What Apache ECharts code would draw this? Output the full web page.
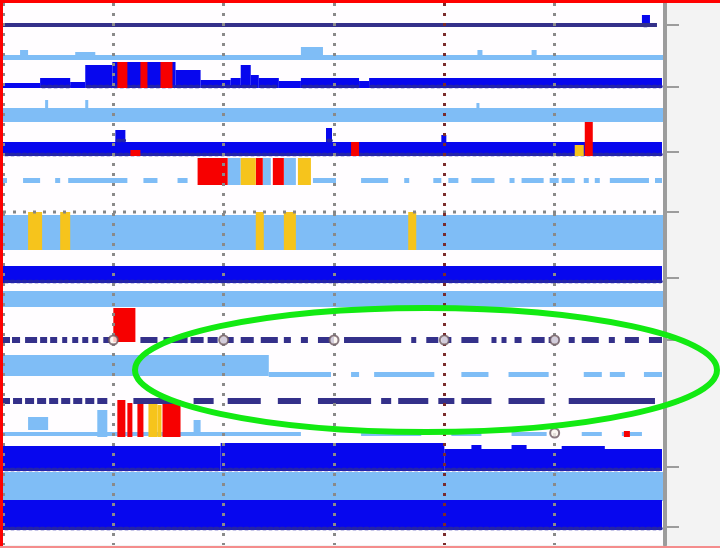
<!DOCTYPE html>
<html>
<head>
<meta charset="utf-8">
<script src="https://cdn.jsdelivr.net/npm/echarts@6/dist/echarts.min.js"></script>
<style>
  html, body { margin: 0; padding: 0; background: #f3f3f3; }
  #chart { width: 720px; height: 548px; }
</style>
</head>
<body>
<div id="chart"></div>
<script>
// Region coordinates run 0–660 along x; y is the stacked-track scale (one row every ~62 units).
const trackRows = [0, 62, 127, 187, 253, 315, 378, 442, 502];

// Every block is [start, end, top, bottom].
const coverage = [
  [637, 645, -10, 2],
  [0, 37, 58, 63], [37, 67, 53, 63], [67, 82, 57, 63], [82, 109, 40, 63],
  [109, 172, 37, 63], [172, 197, 45, 63], [197, 227, 55, 63], [227, 237, 53, 63],
  [237, 247, 40, 63], [247, 255, 50, 63], [255, 275, 53, 63], [275, 297, 56, 63],
  [297, 355, 53, 63], [355, 365, 56, 63], [365, 657, 53, 63],
  [0, 657, 117, 131], [112, 122, 105, 117], [322, 328, 103, 117], [437, 442, 110, 117],
  [0, 657, 241, 258],
  [0, 217, 421, 446], [217, 440, 418, 446], [440, 657, 424, 446],
  [467, 477, 420, 424], [507, 522, 420, 424], [557, 600, 421, 424],
  [0, 657, 475, 505]
];

const coverageLight = [
  [0, 660, 30, 35], [17, 25, 25, 30], [72, 92, 27, 30], [297, 319, 22, 30],
  [473, 478, 25, 30], [527, 532, 25, 30],
  [0, 660, 83, 97], [42, 45, 75, 83], [82, 85, 75, 83], [472, 475, 78, 83],
  [0, 4, 153, 158], [20, 37, 153, 158], [52, 57, 153, 158], [65, 124, 153, 158],
  [140, 154, 153, 158], [174, 184, 153, 158], [309, 332, 153, 158], [357, 384, 153, 158],
  [400, 405, 153, 158], [429, 437, 153, 158], [444, 454, 153, 158], [467, 490, 153, 158],
  [505, 510, 153, 158], [517, 539, 153, 158], [545, 554, 153, 158], [557, 570, 153, 158],
  [579, 584, 153, 158], [590, 595, 153, 158], [605, 644, 153, 158], [650, 657, 153, 158],
  [224, 237, 133, 160], [259, 267, 133, 160], [280, 292, 133, 160],
  [0, 660, 190, 225],
  [0, 660, 266, 282],
  [0, 265, 330, 351],
  [265, 327, 347, 352], [347, 355, 347, 352], [370, 430, 347, 352], [457, 484, 347, 352],
  [504, 544, 347, 352], [579, 597, 347, 352], [605, 620, 347, 352], [639, 657, 347, 352],
  [25, 45, 392, 405], [94, 104, 385, 412], [190, 197, 395, 410],
  [0, 297, 407, 411], [357, 417, 407, 411], [447, 477, 407, 411], [507, 542, 407, 411],
  [577, 597, 407, 411], [617, 637, 407, 411],
  [0, 660, 447, 476]
];

const lowQuality = [
  [114, 124, 37, 63], [137, 144, 37, 63], [157, 169, 37, 63],
  [127, 137, 125, 131], [347, 355, 117, 131], [580, 588, 97, 131],
  [194, 224, 133, 160], [252, 259, 133, 160], [269, 280, 133, 160],
  [110, 132, 283, 317],
  [114, 122, 375, 412], [124, 129, 378, 412], [134, 140, 375, 412], [159, 177, 375, 412],
  [619, 625, 406, 412]
];

const flagged = [
  [570, 579, 120, 131],
  [237, 252, 133, 160], [294, 307, 133, 160],
  [25, 39, 187, 225], [57, 67, 187, 225], [252, 260, 187, 225], [280, 292, 187, 225],
  [404, 412, 187, 225],
  [145, 154, 375, 412], [154, 158, 380, 412]
];

const baselineDashes = [
  [0, 652, -2, 2],
  [0, 7, 312, 318], [9, 17, 312, 318], [22, 34, 312, 318], [37, 44, 312, 318],
  [47, 54, 312, 318], [59, 64, 312, 318], [69, 75, 312, 318], [79, 85, 312, 318],
  [89, 95, 312, 318], [100, 107, 312, 318], [137, 154, 312, 318], [160, 184, 312, 318],
  [187, 200, 312, 318], [204, 214, 312, 318], [217, 230, 312, 318], [237, 250, 312, 318],
  [257, 274, 312, 318], [280, 287, 312, 318], [297, 304, 312, 318], [314, 330, 312, 318],
  [340, 397, 312, 318], [407, 412, 312, 318], [422, 434, 312, 318], [437, 447, 312, 318],
  [457, 474, 312, 318], [487, 492, 312, 318], [497, 502, 312, 318], [510, 517, 312, 318],
  [527, 540, 312, 318], [544, 554, 312, 318], [564, 570, 312, 318], [577, 594, 312, 318],
  [604, 610, 312, 318], [620, 634, 312, 318], [644, 657, 312, 318],
  [0, 7, 373, 379], [10, 19, 373, 379], [22, 31, 373, 379], [34, 43, 373, 379],
  [46, 55, 373, 379], [58, 67, 373, 379], [70, 79, 373, 379], [82, 91, 373, 379],
  [94, 104, 373, 379], [130, 170, 373, 379], [190, 210, 373, 379], [224, 257, 373, 379],
  [274, 297, 373, 379], [314, 367, 373, 379], [377, 387, 373, 379], [394, 424, 373, 379],
  [434, 450, 373, 379], [457, 487, 373, 379], [504, 540, 373, 379], [564, 650, 373, 379]
];

// [start, end, level]
const dottedBaselines = [[0, 660, 187]];

// [position, level]
const junctionMarks = [[110, 315], [220, 315], [330, 315], [440, 315], [550, 315], [550, 408]];

function blockItem(params, api) {
  const a = api.coord([api.value(0), api.value(2)]);
  const b = api.coord([api.value(1), api.value(3)]);
  return {
    type: 'rect',
    shape: { x: a[0], y: a[1], width: b[0] - a[0], height: b[1] - a[1] },
    style: { fill: api.visual('color') }
  };
}

function scallopItem(params, api) {
  const a = api.coord([api.value(0), api.value(2)]);
  const b = api.coord([api.value(1), api.value(3)]);
  const h = b[1] - a[1];
  const children = [{
    type: 'rect',
    shape: { x: a[0], y: a[1], width: b[0] - a[0], height: h },
    style: { fill: api.visual('color') }
  }];
  if (h >= 8 && b[0] - a[0] > 6) {
    children.push({
      type: 'line',
      shape: { x1: a[0] + 2, y1: b[1] - 1.5, x2: b[0] - 1, y2: b[1] - 1.5 },
      style: { stroke: '#2424a8', lineWidth: 3.5, lineDash: [3, 3], lineCap: 'round' }
    });
  }
  return { type: 'group', children: children };
}

function dottedItem(params, api) {
  const a = api.coord([api.value(0), api.value(2)]);
  const b = api.coord([api.value(1), api.value(2)]);
  return {
    type: 'line',
    shape: { x1: a[0], y1: a[1], x2: b[0], y2: b[1] },
    style: { stroke: '#858585', lineWidth: 3, lineDash: [3, 7] }
  };
}

const chart = echarts.init(document.getElementById('chart'), null, { renderer: 'canvas' });

chart.setOption({
  backgroundColor: '#f3f3f3',
  animation: false,
  grid: {
    left: 3, right: 55, top: 3, bottom: 3,
    show: true, backgroundColor: '#fffdff', borderWidth: 0
  },
  xAxis: {
    type: 'value', min: 0, max: 660, interval: 110, z: 5,
    axisLine: { show: false, onZero: false }, axisTick: { show: false }, axisLabel: { show: false },
    splitLine: {
      show: true,
      lineStyle: {
        color: ['#8a8a8a', '#8a8a8a', '#8a8a8a', '#8a8a8a', '#7a2c2c', '#8a8a8a', '#8a8a8a'],
        width: 3, type: [3, 7]
      }
    }
  },
  yAxis: {
    type: 'value', min: -22, max: 520, inverse: true, position: 'right', z: 6,
    axisLine: { show: true, onZero: false, lineStyle: { color: '#9c9c9c', width: 4 } },
    axisTick: { show: true, customValues: trackRows, length: 14, lineStyle: { color: '#9c9c9c', width: 2 } },
    axisLabel: { show: false },
    splitLine: { show: false }
  },
  series: [
    { type: 'custom', name: 'coverage (extended)', renderItem: blockItem, data: coverageLight,
      itemStyle: { color: '#7fbdf6' }, encode: { x: [0, 1], y: [2, 3] }, clip: true, z: 1 },
    { type: 'custom', name: 'coverage', renderItem: scallopItem, data: coverage,
      itemStyle: { color: '#0707ee' }, encode: { x: [0, 1], y: [2, 3] }, clip: true, z: 2 },
    { type: 'custom', name: 'low quality', renderItem: blockItem, data: lowQuality,
      itemStyle: { color: '#f70000' }, encode: { x: [0, 1], y: [2, 3] }, clip: true, z: 3 },
    { type: 'custom', name: 'flagged', renderItem: blockItem, data: flagged,
      itemStyle: { color: '#f6c41c' }, encode: { x: [0, 1], y: [2, 3] }, clip: true, z: 3 },
    { type: 'custom', name: 'baseline', renderItem: blockItem, data: baselineDashes,
      itemStyle: { color: '#34308a' }, encode: { x: [0, 1], y: [2, 3] }, clip: true, z: 4 },
    { type: 'custom', name: 'reference', renderItem: dottedItem, data: dottedBaselines,
      encode: { x: [0, 1], y: 2 }, clip: true, z: 4 },
    { type: 'scatter', name: 'junction', data: junctionMarks, symbol: 'circle', symbolSize: 9,
      itemStyle: { color: '#fbf5ef', borderColor: '#6e5a62', borderWidth: 2 }, z: 7, silent: true }
  ],
  graphic: [
    { type: 'ellipse', z: 100, shape: { cx: 426, cy: 370, rx: 291, ry: 62 },
      style: { fill: null, stroke: '#12ea12', lineWidth: 6 } },
    { type: 'rect', z: 101, shape: { x: 0, y: 0, width: 720, height: 3 }, style: { fill: '#ff0000' } },
    { type: 'rect', z: 101, shape: { x: 0, y: 0, width: 3, height: 548 }, style: { fill: '#ff0000' } },
    { type: 'rect', z: 101, shape: { x: 0, y: 546, width: 720, height: 2 }, style: { fill: '#f48c8c' } }
  ]
});
</script>
</body>
</html>
